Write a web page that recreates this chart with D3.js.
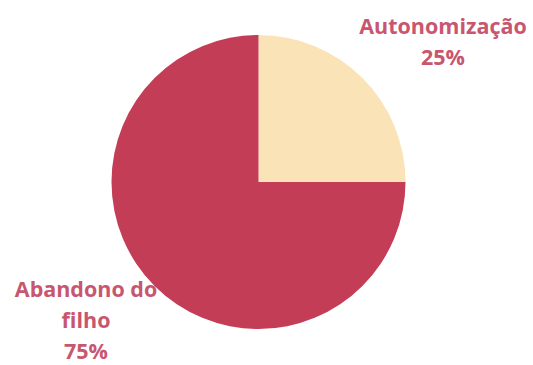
<!DOCTYPE html>
<html>
<head>
<meta charset="utf-8">
<script src="https://cdn.jsdelivr.net/npm/d3@7"></script>
<style>
  body { margin: 0; background: #fff; }
  svg text { font-family: "Open Sans", sans-serif; font-weight: bold; fill: #c8566f; }
</style>
</head>
<body>
<div id="chart"></div>
<script>
var categories = ["Autonomização", "Abandono do filho"];
var values = [25, 75];
var colors = ["#fbe3b8", "#c43d56"];
// label lines per slice
var labelLines = [["Autonomização", "25%"], ["Abandono do", "filho", "75%"]];
var labelPos = [[443, 34], [86, 297]];

var width = 533, height = 365;
var svg = d3.select("#chart").append("svg")
  .attr("width", width)
  .attr("height", height);

var pie = d3.pie().sort(null).value(function(d) { return d; });
var arc = d3.arc().innerRadius(0).outerRadius(147);

var g = svg.append("g").attr("transform", "translate(258.5,182)");

g.selectAll("path")
  .data(pie(values))
  .enter().append("path")
  .attr("d", arc)
  .attr("fill", function(d, i) { return colors[i]; });

var labels = svg.selectAll("text.lbl")
  .data(labelLines)
  .enter().append("text")
  .attr("class", "lbl")
  .attr("text-anchor", "middle")
  .attr("font-size", 21.5)
  .attr("transform", function(d, i) { return "translate(" + labelPos[i] + ")"; });

labels.selectAll("tspan")
  .data(function(d) { return d; })
  .enter().append("tspan")
  .attr("x", 0)
  .attr("y", function(d, i) { return i * 31; })
  .text(function(d) { return d; });
</script>
</body>
</html>
